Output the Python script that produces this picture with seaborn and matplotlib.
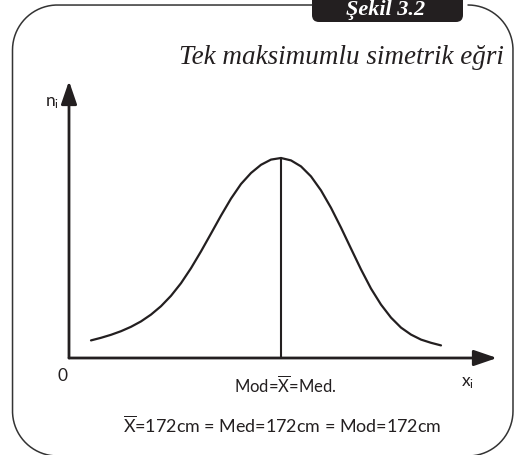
import numpy as np
import matplotlib
matplotlib.use("Agg")
import matplotlib.pyplot as plt
from matplotlib.patches import FancyBboxPatch, FancyArrowPatch
import seaborn as sns

# Symmetric unimodal frequency curve (height in cm vs. frequency)
height_cm = [153, 154, 155, 156, 157, 158, 159, 160, 161, 162, 163, 164,
             165, 166, 167, 168, 169, 170, 171, 172, 173, 174, 175, 176,
             177, 178, 179, 180, 181, 182, 183, 184, 185, 186, 187, 188]
frequency = [8.8, 10.1, 11.6, 13.4, 15.6, 18.3, 21.7, 25.9, 31.1, 37.4,
             44.9, 53.3, 62.2, 71.2, 79.7, 87.0, 92.5, 96.6, 99.2, 100.0,
             98.8, 95.8, 90.8, 83.8, 75.1, 65.2, 54.7, 44.3, 34.7, 26.7,
             20.2, 15.2, 11.7, 9.2, 7.6, 6.3]

mean_cm = 172
median_cm = 172
mode_cm = 172
peak_freq = 100.0

figure_label = "Şekil 3.2"
title_text = "Tek maksimumlu simetrik eğri"
y_label = r"n$_\mathrm{i}$"
x_label = r"x$_\mathrm{i}$"
origin_label = "0"
center_label = r"Mod=$\overline{\mathrm{X}}$=Med."
summary_label = r"$\overline{\mathrm{X}}$=172cm = Med=172cm = Mod=172cm"

INK = "#231f20"

sns.set_style("white")
plt.rcParams["font.family"] = ["Lato", "DejaVu Sans"]
plt.rcParams["mathtext.fontset"] = "custom"
plt.rcParams["mathtext.rm"] = "Lato"
plt.rcParams["mathtext.it"] = "Lato:italic"
plt.rcParams["mathtext.bf"] = "Lato:bold"

W, H = 517, 456
fig = plt.figure(figsize=(W / 100, H / 100), dpi=100)

# Background layer in pixel units for the frame and tab
bg = fig.add_axes([0, 0, 1, 1])
bg.set_xlim(0, W)
bg.set_ylim(H, 0)
bg.axis("off")

def arc(cx, cy, r, a0, a1, n=40):
    t = np.radians(np.linspace(a0, a1, n))
    return cx + r * np.cos(t), cy + r * np.sin(t)

L, R, T, B, rad = 12.5, 513, 6, 457, 45
xs, ys = [], []
segs = [
    ([312, L + rad], [T, T]),
    arc(L + rad, T + rad, rad, 270, 180),
    ([L, L], [T + rad, B - rad]),
    arc(L + rad, B - rad, rad, 180, 90),
    ([L + rad, R - rad], [B, B]),
    arc(R - rad, B - rad, rad, 90, 0),
    ([R, R], [B - rad, T + rad]),
    arc(R - rad, T + rad, rad, 0, -90),
]
for sx, sy in segs:
    xs.extend(sx)
    ys.extend(sy)
bg.plot(xs, ys, color="#333333", lw=1.1, solid_capstyle="round")

tab = FancyBboxPatch((312, -12), 151, 35,
                     boxstyle="round,pad=0,rounding_size=7",
                     fc=INK, ec="none")
bg.add_patch(tab)
bg.text(386, 15.5, figure_label, color="white", ha="center", va="baseline",
        family="Liberation Serif", style="italic", weight="bold",
        fontsize=16)
bg.text(504, 57, title_text, color=INK, ha="right", va="center",
        family="Liberation Serif", style="italic", fontsize=19.5)

# Plot area
x0, x1 = 150.8, 193.6
y0, y1 = 0, 138.5
ax = fig.add_axes([69 / W, 97 / H, (497 - 69) / W, (359 - 82) / H])
ax.patch.set_alpha(0)
ax.set_xlim(x0, x1)
ax.set_ylim(y0, y1)
for s in ax.spines.values():
    s.set_visible(False)
ax.set_xticks([])
ax.set_yticks([])

sns.lineplot(x=height_cm, y=frequency, ax=ax, color=INK, lw=1.6,
             sort=False, estimator=None)
for ln in ax.lines:
    ln.set_solid_joinstyle("round")
ax.set_xlabel("")
ax.set_ylabel("")
ax.plot([mode_cm, mode_cm], [0, peak_freq], color=INK, lw=1.5)

arrow_kw = dict(arrowstyle="-|>,head_length=0.7,head_width=0.24",
                color=INK, lw=2.0, mutation_scale=20, clip_on=False,
                shrinkA=0, shrinkB=0)
ax.add_patch(FancyArrowPatch((x0, 0), (x1, 0), **arrow_kw))
ax.add_patch(FancyArrowPatch((x0, 0), (x0, y1), **arrow_kw))

ax.text(x0 - 0.6, -8.5, origin_label, ha="center", va="center",
        color=INK, fontsize=12.5)
ax.text(x0 - 1.7, 128, y_label, ha="center", va="center",
        color=INK, fontsize=12.5)
ax.text(x1 - 2.9, -12, x_label, ha="center", va="center",
        color=INK, fontsize=12.5)
ax.text(mode_cm + 0.4, -13, center_label, ha="center", va="center",
        color=INK, fontsize=12)
ax.text(mode_cm + 0.1, -33, summary_label, ha="center", va="center",
        color=INK, fontsize=12.9)

fig.savefig("out.png", dpi=100)
